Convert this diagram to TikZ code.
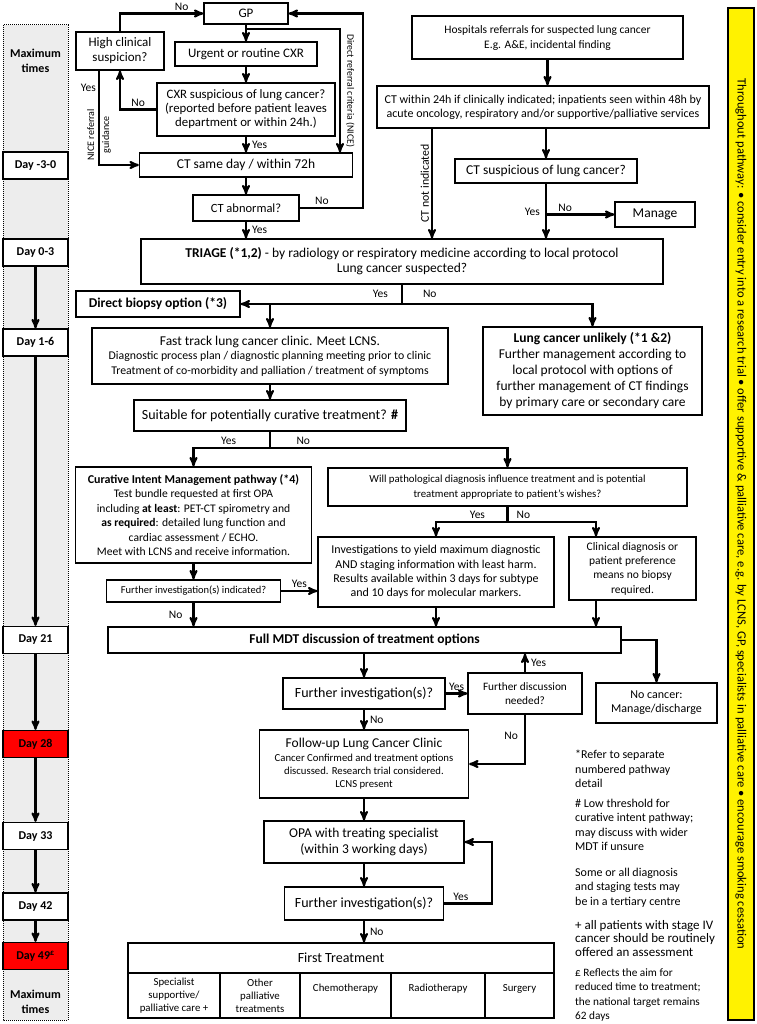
\documentclass[tikz,border=0pt]{standalone}
\usepackage{fontspec}
\setmainfont{Carlito}
\usetikzlibrary{arrows}

\newcommand{\fsz}[2]{\fontsize{#1}{#2}\selectfont}

\begin{document}
\begin{tikzpicture}[x=1pt, y=-1pt, >=stealth',
	box/.style={draw, line width=1.3pt, align=center, inner sep=1pt, fill=white},
	day/.style={box, minimum width=65pt, minimum height=27pt, font=\bfseries\fsz{12}{14}},
	link/.style={line width=2.1pt},
	flow/.style={link, ->},
	lbl/.style={font=\fsz{11.5}{13}, inner sep=2pt},
	note/.style={anchor=north west, align=left, inner sep=0pt, font=\fsz{12}{14.4}}]
	\useasboundingbox (0,0) rectangle (756,1024);
	
	% Timeline {dm30, d03, d16, d21, d28, d33, d42, d49}
	\fill[black!7] (3,25) rectangle (68,1020);
	\draw[densely dotted, line width=1pt] (3,25) rectangle (68,1020);
	\node[font=\bfseries\fsz{12}{15}, align=center] (mt1) at (35.5,61) {Maximum\\times};
	\node[day]            (dm30) at (35.5,165.5) {Day -3-0};
	\node[day]            (d03)  at (35.5,252.5) {Day 0-3};
	\node[day]            (d16)  at (35.5,342.5) {Day 1-6};
	\node[day]            (d21)  at (35.5,640)   {Day 21};
	\node[day, fill=red]  (d28)  at (35.5,744)   {Day 28};
	\node[day]            (d33)  at (35.5,836)   {Day 33};
	\node[day]            (d42)  at (35.5,906.5) {Day 42};
	\node[day, fill=red]  (d49)  at (35.5,956)   {Day 49\textsuperscript{£}};
	\node[font=\bfseries\fsz{12}{15}, align=center] (mt2) at (35.5,1002) {Maximum\\times};
	
	\path[flow] (d03) edge (d16) (d16) edge (d21) (d21) edge (d28)
	            (d28) edge (d33) (d33) edge (d42) (d42) edge (d49);
	
	% Side bar
	\node[draw, line width=1.2pt, fill=yellow, rotate=-90, minimum width=1012pt, minimum height=26pt, inner sep=0pt, font=\fsz{12.6}{14}] (trial) at (741,514)
	{Throughout pathway: • consider entry into a research trial • offer supportive \& palliative care, e.g. by LCNS, GP, specialists in palliative care • encourage smoking cessation};
	
	% Nodes {gp, hcs, cxr, cxrq, ctday, ctabn, hosp, ct24, ctsusp, manage, triage, ...}
	\node[box, minimum width=84pt,  minimum height=21pt, font=\fsz{13}{14}]   (gp)    at (246,13.5)  {GP};
	\node[box, minimum width=88pt,  minimum height=38pt, font=\fsz{13}{15}]   (hcs)   at (120,51)    {High clinical\\suspicion?};
	\node[box, minimum width=142pt, minimum height=24pt, font=\fsz{13}{14}]   (cxr)   at (246,54)    {Urgent or routine CXR};
	\node[box, minimum width=178pt, minimum height=53pt, font=\fsz{12.8}{14}] (cxrq)  at (246,109.5) {CXR suspicious of lung cancer?\\(reported before patient leaves\\department or within 24h.)};
	\node[box, minimum width=213pt, minimum height=24pt, font=\fsz{13.5}{14}] (ctday) at (246,165)   {CT same day / within 72h};
	\node[box, minimum width=106pt, minimum height=26pt, font=\fsz{12.5}{14}] (ctabn) at (246,208)   {CT abnormal?};
	
	\node[box, minimum width=271pt, minimum height=43pt, font=\fsz{11.5}{15}] (hosp)   at (547.5,37.5) {Hospitals referrals for suspected lung cancer\\E.g. A\&E, incidental finding};
	\node[box, minimum width=332pt, minimum height=42pt, font=\fsz{12}{14}]   (ct24)   at (543,107)    {CT within 24h if clinically indicated; inpatients seen within 48h by\\acute oncology, respiratory and/or supportive/palliative services};
	\node[box, minimum width=182pt, minimum height=24pt, font=\fsz{13.5}{14}] (ctsusp) at (546,171)    {CT suspicious of lung cancer?};
	\node[box, minimum width=80pt,  minimum height=25pt, font=\fsz{13.5}{14}] (manage) at (655,214.5)  {Manage};
	
	\node[box, minimum width=522pt, minimum height=45pt, font=\fsz{13.5}{15}] (triage) at (402,261.5)
	{\textbf{TRIAGE (*1,2)} - by radiology or respiratory medicine according to local protocol\\Lung cancer suspected?};
	\node[box, minimum width=164pt, minimum height=26pt, font=\bfseries\fsz{13.5}{14}] (biopsy) at (158,304) {Direct biopsy option (*3)};
	\node[box, minimum width=356pt, minimum height=56pt, font=\fsz{11.8}{14.5}] (fast) at (270,356)
	{{\fsz{13.5}{14.5}Fast track lung cancer clinic. Meet LCNS.}\\Diagnostic process plan / diagnostic planning meeting prior to clinic\\Treatment of co-morbidity and palliation / treatment of symptoms};
	\node[box, minimum width=219pt, minimum height=88pt, font=\fsz{13.5}{16}] (unlikely) at (592.5,371)
	{{\bfseries\fsz{13.5}{16}Lung cancer unlikely (*1 \&2)}\\Further management according to\\local protocol with options of\\further management of CT findings\\by primary care or secondary care};
	\node[box, minimum width=272pt, minimum height=31pt, font=\fsz{14}{14}] (suit) at (270,415.5) {Suitable for potentially curative treatment? \textbf{\#}};
	
	\node[box, minimum width=236pt, minimum height=96pt, font=\fsz{11.6}{14.4}] (cur) at (193.5,515)
	{{\bfseries\fsz{12}{14.4}Curative Intent Management pathway (*4)}\\Test bundle requested at first OPA\\including \textbf{at least}: PET-CT spirometry and\\\textbf{as required}: detailed lung function and\\cardiac assessment / ECHO.\\Meet with LCNS and receive information.};
	\node[box, minimum width=359pt, minimum height=38pt, font=\fsz{10.8}{15}] (will) at (507.5,487)
	{Will pathological diagnosis influence treatment and is potential\\treatment appropriate to patient’s wishes?};
	\node[box, minimum width=236pt, minimum height=70pt, font=\fsz{12}{14.3}] (invest) at (436,572)
	{Investigations to yield maximum diagnostic\\AND staging information with least harm.\\Results available within 3 days for subtype\\and 10 days for molecular markers.};
	\node[box, minimum width=127pt, minimum height=63pt, font=\fsz{11.5}{14.3}] (clin) at (632.5,568.5) {Clinical diagnosis or\\patient preference\\means no biopsy\\required.};
	\node[box, minimum width=174pt, minimum height=22pt, font=\fsz{10.5}{12}] (finv) at (193.5,591) {Further investigation(s) indicated?};
	
	\node[box, minimum width=513pt, minimum height=26pt, font=\bfseries\fsz{13.5}{14}] (mdt) at (364.5,640) {Full MDT discussion of treatment options};
	\node[box, minimum width=162pt, minimum height=31pt, font=\fsz{14}{14}]   (fq1)   at (364,693.5) {Further investigation(s)?};
	\node[box, minimum width=114pt, minimum height=41pt, font=\fsz{11.3}{14}] (fdisc) at (525,693.5) {Further discussion\\needed?};
	\node[box, minimum width=121pt, minimum height=40pt, font=\fsz{12}{14}]   (nocan) at (656.5,703) {No cancer:\\Manage/discharge};
	\node[box, minimum width=209pt, minimum height=68pt, font=\fsz{10.7}{13}] (fup) at (364,764)
	{{\fsz{13.5}{13}Follow-up Lung Cancer Clinic}\\[1pt]Cancer Confirmed and treatment options\\discussed. Research trial considered.\\LCNS present};
	\node[box, minimum width=200pt, minimum height=42pt, font=\fsz{13.5}{16}] (opa) at (364,842) {OPA with treating specialist\\(within 3 working days)};
	\node[box, minimum width=159pt, minimum height=33pt, font=\fsz{14}{14}]   (fq2) at (364,903.5) {Further investigation(s)?};
	
	\node[box, minimum width=426pt, minimum height=30pt, font=\fsz{14}{14}] (first) at (341,958) {First Treatment};
	\node[box, minimum width=92pt, minimum height=45pt, font=\fsz{10.8}{13}] (tr1) at (174,995.5) {Specialist\\supportive/\\palliative care +};
	\node[box, minimum width=80pt, minimum height=45pt, font=\fsz{10.8}{13}] (tr2) at (260,995.5) {Other\\palliative\\treatments};
	\node[box, minimum width=91pt, minimum height=45pt, font=\fsz{10.8}{13}, text depth=15pt] (tr3) at (345.5,995.5) {Chemotherapy};
	\node[box, minimum width=94pt, minimum height=45pt, font=\fsz{10.8}{13}, text depth=15pt] (tr4) at (438,995.5) {Radiotherapy};
	\node[box, minimum width=69pt, minimum height=45pt, font=\fsz{10.8}{13}, text depth=15pt] (tr5) at (519.5,995.5) {Surgery};
	
	% Notes
	\node[note] (n1) at (575,750) {*Refer to separate\\numbered pathway\\detail};
	\node[note] (n2) at (575,799) {\# Low threshold for\\curative intent pathway;\\may discuss with wider\\MDT if unsure};
	\node[note] (n3) at (575,868) {Some or all diagnosis\\and staging tests may\\be in a tertiary centre};
	\node[note, font=\fsz{13}{13.5}] (n4) at (575,920) {+ all patients with stage IV\\cancer should be routinely\\offered an assessment};
	\node[note, font=\fsz{11.3}{14.5}] (n5) at (575,968) {£ Reflects the aim for\\reduced time to treatment;\\the national target remains\\62 days};
	
	% Paths
	\coordinate (drx) at (340,29);
	\coordinate (nice) at (99,0);
	\coordinate (backx) at (363,0);
	\coordinate (ctnx) at (432,0);
	\coordinate (tj) at (402,304);
	\coordinate (sj) at (270,448);
	\coordinate (wj) at (507.5,522);
	\coordinate (clx) at (596,0);
	\coordinate (loopx) at (492,0);
	
	\draw[flow] (gp) -- (cxr);
	\draw[flow] (gp.south |- drx) -- (drx) -- (drx |- ctday.north)
		node[lbl, midway, anchor=south, rotate=-90, inner sep=5pt, font=\fsz{9.8}{11}] {Direct referral criteria (NICE)};
	\draw[flow] (hcs.north) |- (gp.west) node[lbl, pos=0.87, above] {No};
	\draw[flow] (cxr) -- (cxrq);
	\draw[flow] (cxrq.west) -| (hcs.south) node[lbl, pos=0.25, above] {No};
	\draw[flow] (nice |- hcs.south) |- (ctday.west)
		node[lbl, pos=0.09, left] {Yes}
		node[pos=0.34, rotate=90, align=center, font=\fsz{10}{15}] {NICE referral\\guidance};
	\draw[flow] (cxrq) -- (ctday) node[lbl, midway, right, xshift=3pt] {Yes};
	\draw[flow] (ctday) -- (ctabn);
	\draw[flow] (ctabn.east) -- (ctabn.east -| backx) node[lbl, pos=0.35, above] {No}
		-- (gp.east -| backx) -- (gp.east);
	\draw[flow] (ctabn.south) -- (ctabn.south |- triage.north) node[lbl, midway, right, xshift=3pt] {Yes};
	
	\draw[flow] (hosp.south) -- (hosp.south |- ct24.north);
	\draw[flow] (ct24.south -| ctnx) -- (triage.north -| ctnx)
		node[lbl, midway, anchor=south, rotate=90, font=\fsz{11.8}{13}] {CT not indicated};
	\draw[flow] (ctsusp.north |- ct24.south) -- (ctsusp.north);
	\draw[flow] (ctsusp.south) -- (ctsusp.south |- triage.north) node[lbl, pos=0.52, left, xshift=-3pt] {Yes};
	\draw[flow] (ctsusp.south |- manage.west) -- (manage.west) node[lbl, pos=0.28, above] {No};
	
	\draw[link] (triage.south -| tj) -- (tj)
		node[lbl, midway, left, xshift=-11pt] {Yes}
		node[lbl, midway, right, xshift=18pt] {No};
	\draw[flow] (tj) -- (biopsy.east);
	\draw[flow] (tj) -| (unlikely.north);
	\draw[flow] (fast.north |- tj) -- (fast.north);
	\draw[flow] (fast) -- (suit);
	
	\draw[link] (suit) -- (sj);
	\draw[flow] (sj) -| (cur.north) node[lbl, pos=0.27, above] {Yes};
	\draw[flow] (sj) -| (will.north) node[lbl, pos=0.07, above] {No};
	\draw[flow] (cur) -- (finv);
	\draw[flow] (finv.east) -- (finv.east -| invest.west) node[lbl, midway, above] {Yes};
	\draw[flow] (finv.south) -- (finv.south |- mdt.north) node[lbl, midway, left, xshift=-8pt] {No};
	
	\draw[link] (will) -- (wj);
	\draw[flow] (wj) -| (invest.north) node[lbl, pos=0.21, above] {Yes};
	\draw[flow] (wj) -| (clin.north -| clx) node[lbl, pos=0.09, above] {No};
	\draw[flow] (invest.south) -- (invest.south |- mdt.north);
	\draw[flow] (clin.south -| clx) -- (mdt.north -| clx);
	
	\draw[flow] (mdt.east) -| (nocan.north);
	\draw[flow] (fq1.north |- mdt.south) -- (fq1.north);
	\draw[flow] (fq1) -- (fdisc) node[lbl, midway, above] {Yes};
	\draw[flow] (fdisc.north) -- (fdisc.north |- mdt.south) node[lbl, midway, right, xshift=3pt] {Yes};
	\draw[flow] (fdisc.south) |- (fup.east) node[lbl, pos=0.21, left, xshift=-4pt] {No};
	\draw[flow] (fq1) -- (fup) node[lbl, midway, right, xshift=3pt] {No};
	\draw[flow] (fup) -- (opa);
	\draw[flow] (opa) -- (fq2);
	\draw[flow] (fq2.east) -- (fq2.east -| loopx) node[lbl, pos=0.35, above] {Yes}
		-- (opa.east -| loopx) -- (opa.east);
	\draw[flow] (fq2.south) -- (fq2.south |- first.north) node[lbl, midway, right, xshift=3pt] {No};
\end{tikzpicture}
\end{document}
